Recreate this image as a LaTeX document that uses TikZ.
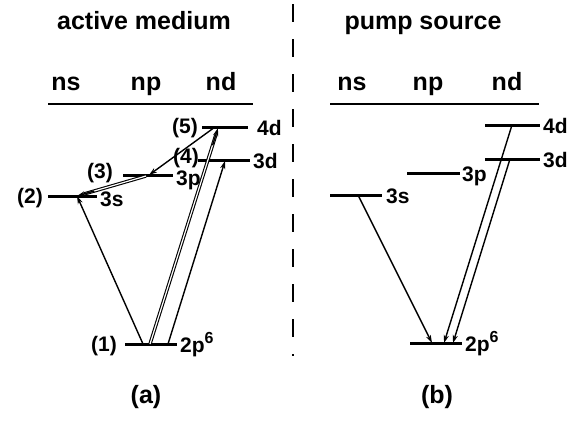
\documentclass[tikz,border=0pt]{standalone}
\usepackage{fontspec}
\setmainfont{Liberation Sans}
\usetikzlibrary{arrows.meta,calc}
\tikzset{
  lvl/.style={line width=3pt},
  arr/.style={line width=1.4pt,-{Stealth[length=8pt,width=5pt]}},
  dbl/.style={line width=1.1pt,double=white,double distance=1.2pt},
  lab/.style={font=\fontsize{21}{23}\selectfont\bfseries,inner sep=0pt},
  hdr/.style={font=\fontsize{25}{28}\selectfont\bfseries,inner sep=0pt},
  rule/.style={line width=2.2pt},
  sep/.style={line width=2pt,dash pattern=on 18pt off 17pt}
}
\newcommand{\sixsup}{2p\raisebox{0.42em}{\fontsize{16}{17}\selectfont 6}}
\begin{document}
\begin{tikzpicture}[x=1pt,y=-1pt]
\useasboundingbox (0,0) rectangle (576,421);
% titles and headers
\node[hdr,anchor=base] (tA) at (144,29) {active medium};
\node[hdr,anchor=base] (tB) at (423,29) {pump source};
\node[hdr,anchor=base] (hAs) at (66,90) {ns};
\node[hdr,anchor=base] (hAp) at (146,90) {np};
\node[hdr,anchor=base] (hAd) at (221,90) {nd};
\node[hdr,anchor=base] (hBs) at (352,90) {ns};
\node[hdr,anchor=base] (hBp) at (428,90) {np};
\node[hdr,anchor=base] (hBd) at (507,90) {nd};
\coordinate (uAl) at (48,104); \coordinate (uAr) at (253,104);
\coordinate (uBl) at (330,104); \coordinate (uBr) at (539,104);
\draw[rule] (uAl) -- (uAr);
\draw[rule] (uBl) -- (uBr);
% separator
\coordinate (dtop) at (293,4); \coordinate (dbot) at (293,356);
\draw[sep] (dtop) -- (dbot);
% ---------- (a) active medium ----------
\coordinate (a1l) at (125,344); \coordinate (a1r) at (177,344);
\coordinate (a2l) at (48,196);  \coordinate (a2r) at (97,196);
\coordinate (a3l) at (123,175); \coordinate (a3r) at (173,175);
\coordinate (a4l) at (198,160); \coordinate (a4r) at (250,160);
\coordinate (a5l) at (202,127); \coordinate (a5r) at (248,127);
\draw[lvl] (a1l) -- (a1r);
\draw[lvl] (a2l) -- (a2r);
\draw[lvl] (a3l) -- (a3r);
\draw[lvl] (a4l) -- (a4r);
\draw[lvl] (a5l) -- (a5r);
\node[lab,anchor=base east] (n1) at (117,351) {(1)};
\node[lab,anchor=base west] (l1) at (180,352) {\sixsup};
\node[lab,anchor=base east] (n2) at (43,203) {(2)};
\node[lab,anchor=base west] (l2) at (100,206) {3s};
\node[lab,anchor=base east] (n3) at (113,178) {(3)};
\node[lab,anchor=base west] (l3) at (176,185) {3p};
\node[lab,anchor=base east] (n4) at (199,163) {(4)};
\node[lab,anchor=base west] (l4) at (253,168) {3d};
\node[lab,anchor=base east] (n5) at (198,133) {(5)};
\node[lab,anchor=base west] (l5) at (257,135) {4d};
% transitions (a)
\coordinate (p1a) at (143,344); \coordinate (p2a) at (77,196);
\coordinate (p1b) at (150,344); \coordinate (p5a) at (218,128);
\coordinate (p1c) at (168,344); \coordinate (p4a) at (225,161);
\coordinate (p5b) at (215,127); \coordinate (p3a) at (149,175);
\coordinate (p3b) at (146,176); \coordinate (p2b) at (77,196);
\draw[arr] (p1a) -- (p2a);
\draw[dbl,shorten >=7pt] (p1b) -- (p5a);
\draw[arr] ($(p1b)!0.92!(p5a)$) -- (p5a);
\draw[arr] (p1c) -- (p4a);
\draw[arr] (p5b) -- (p3a);
\draw[dbl,shorten >=7pt] (p3b) -- (p2b);
\draw[arr] ($(p3b)!0.75!(p2b)$) -- (p2b);
% ---------- (b) pump source ----------
\coordinate (b1l) at (410,343); \coordinate (b1r) at (462,343);
\coordinate (b2l) at (330,195); \coordinate (b2r) at (382,195);
\coordinate (b3l) at (407,173); \coordinate (b3r) at (460,173);
\coordinate (b4l) at (485,159); \coordinate (b4r) at (540,159);
\coordinate (b5l) at (485,125); \coordinate (b5r) at (540,125);
\draw[lvl] (b1l) -- (b1r);
\draw[lvl] (b2l) -- (b2r);
\draw[lvl] (b3l) -- (b3r);
\draw[lvl] (b4l) -- (b4r);
\draw[lvl] (b5l) -- (b5r);
\node[lab,anchor=base west] (m1) at (465,351) {\sixsup};
\node[lab,anchor=base west] (m2) at (386,203) {3s};
\node[lab,anchor=base west] (m3) at (462,181) {3p};
\node[lab,anchor=base west] (m4) at (543,167) {3d};
\node[lab,anchor=base west] (m5) at (543,133) {4d};
\coordinate (q2) at (358,195); \coordinate (q1a) at (432,343);
\coordinate (q5) at (512,125); \coordinate (q1b) at (444,343);
\coordinate (q4) at (510,159); \coordinate (q1c) at (453,343);
\draw[arr] (q2) -- (q1a);
\draw[arr] (q5) -- (q1b);
\draw[arr] (q4) -- (q1c);
% captions
\node[hdr,anchor=base] (ca) at (146,403) {(a)};
\node[hdr,anchor=base] (cb) at (437,403) {(b)};
\end{tikzpicture}
\end{document}
